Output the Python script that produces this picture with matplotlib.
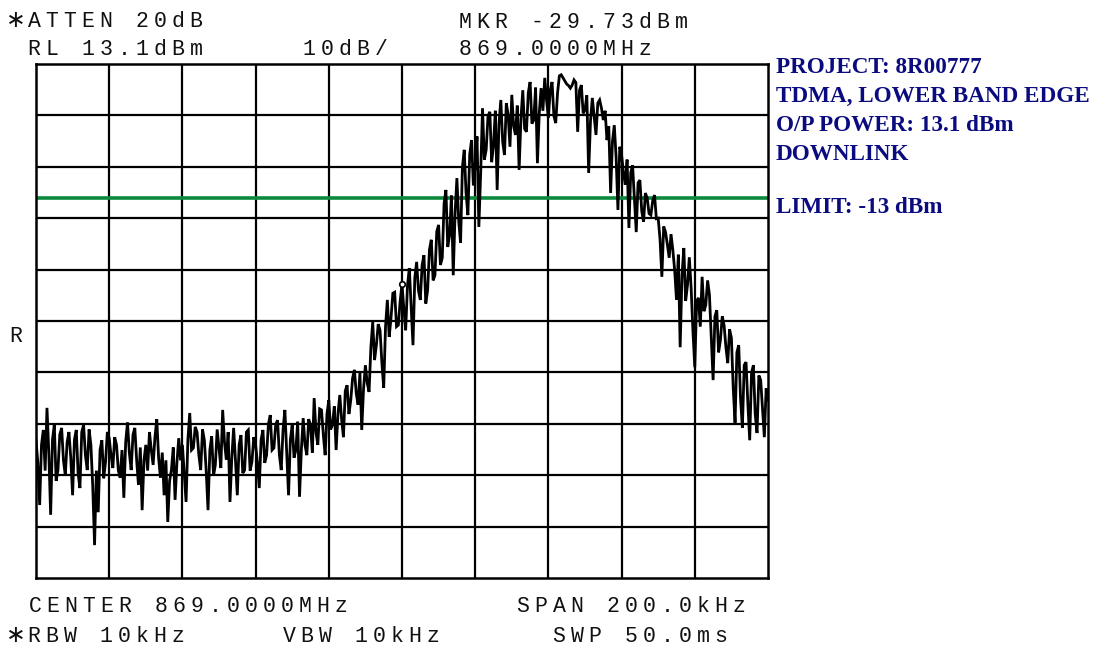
import numpy as np
import matplotlib
matplotlib.use("Agg")
import matplotlib.pyplot as plt

# ---------------- data ----------------
center_mhz = 869.0
span_khz = 200.0
ref_level = 13.1
db_per_div = 10.0
limit_dbm = -13.0
marker_dbm = -29.73

# trace amplitudes in dBm, 401 points evenly spaced over the span
trace_dbm = [
    -60.1, -64.5, -72.7, -61.0, -58.1, -66.0, -53.8, -62.5, -74.6, -60.0,
    -57.1, -68.0, -65.9, -59.0, -57.7, -64.0, -66.9, -60.5, -58.5, -63.5,
    -70.8, -60.0, -58.1, -66.5, -69.4, -58.5, -57.1, -63.0, -65.9, -58.0,
    -61.0, -69.0, -80.5, -66.0, -74.1, -62.0, -60.1, -67.5, -64.3, -58.5,
    -59.7, -63.0, -65.5, -59.5, -61.0, -66.0, -67.4, -62.0, -71.3, -60.5,
    -56.6, -62.5, -65.9, -59.0, -57.7, -64.0, -68.8, -61.5, -73.7, -64.0,
    -61.0, -66.0, -58.5, -62.0, -64.9, -59.5, -56.0, -63.5, -67.4, -62.5,
    -70.8, -64.0, -76.0, -68.0, -65.9, -61.5, -71.7, -64.5, -59.7, -64.0,
    -61.0, -66.5, -72.1, -60.0, -54.8, -62.0, -61.6, -57.5, -58.5, -63.0,
    -65.9, -58.0, -60.1, -66.0, -73.7, -62.0, -59.3, -67.0, -64.9, -58.0,
    -61.6, -65.5, -54.2, -60.5, -63.9, -58.5, -72.1, -63.5, -57.7, -64.0,
    -70.8, -61.0, -59.1, -66.5, -65.9, -58.5, -58.1, -66.0, -64.3, -59.5,
    -61.0, -64.5, -69.4, -60.0, -58.1, -64.5, -63.0, -57.0, -55.2, -62.0,
    -61.6, -57.0, -56.2, -63.0, -65.9, -58.0, -54.2, -62.5, -70.8, -60.0,
    -57.1, -63.5, -62.0, -56.5, -71.1, -62.0, -55.8, -61.0, -63.0, -56.0,
    -57.1, -62.5, -51.9, -58.5, -61.0, -54.0, -54.2, -59.0, -63.0, -55.0,
    -52.3, -58.0, -57.1, -53.5, -62.0, -55.0, -51.3, -56.0, -59.5, -50.5,
    -49.4, -55.0, -52.3, -48.0, -46.4, -51.0, -53.2, -47.0, -58.1, -50.0,
    -45.5, -49.0, -50.7, -42.0, -37.1, -44.5, -41.6, -37.5, -38.7, -45.0,
    -49.9, -38.0, -32.8, -40.0, -36.3, -31.5, -31.3, -38.0, -37.7, -33.0,
    -29.7, -34.5, -38.7, -30.0, -26.6, -34.0, -41.6, -28.5, -25.4, -31.0,
    -32.8, -26.0, -24.1, -33.5, -30.9, -23.0, -21.1, -29.0, -28.0, -19.5,
    -18.2, -26.0, -24.6, -14.0, -11.4, -22.5, -20.2, -12.5, -28.0, -16.0,
    -9.1, -17.5, -21.7, -7.0, -3.6, -12.0, -16.3, -4.5, -1.7, -10.5,
    -6.6, -1.0, -18.6, -8.0, 4.5, -5.5, -3.6, 3.0, 3.8, -6.0,
    -2.7, 4.0, -11.4, 1.5, 6.1, -2.0, -4.6, 5.5, 3.2, -3.0,
    7.1, 1.0, -0.7, 5.0, -7.5, 2.5, 8.0, 0.5, -0.1, 7.5,
    9.6, 1.5, 2.2, 8.5, -6.2, 3.5, 8.4, 4.0, 10.4, 6.0,
    2.6, 8.0, 9.6, 3.0, 1.6, 7.5, 10.8, 11.0, 10.4, 9.8,
    9.2, 8.9, 8.4, 9.0, 10.0, 9.5, -0.1, 8.0, 9.0, 3.5,
    4.2, 7.0, -8.1, 2.0, 6.5, 3.0, -0.7, 5.5, 6.1, 4.5,
    2.2, 4.0, -1.7, 1.0, -12.0, -2.0, 1.2, -5.0, -15.3, -3.0,
    -4.6, -8.0, -10.4, -5.5, -18.8, -8.0, -6.6, -13.0, -19.6, -10.0,
    -9.5, -15.5, -17.6, -12.0, -13.0, -16.0, -16.3, -13.5, -12.4, -17.0,
    -16.9, -21.0, -28.3, -18.5, -19.6, -22.0, -24.6, -20.0, -23.1, -27.0,
    -32.8, -24.0, -42.0, -28.0, -22.7, -33.0, -29.9, -24.5, -30.5, -39.0,
    -45.9, -33.0, -32.4, -38.0, -28.3, -35.0, -33.8, -29.0, -31.8, -40.0,
    -48.4, -36.0, -34.8, -43.0, -40.6, -36.0, -37.7, -42.0, -45.1, -38.5,
    -40.2, -50.0, -56.7, -43.0, -41.6, -52.0, -57.7, -45.5, -44.9, -53.0,
    -60.1, -47.0, -45.5, -55.0, -58.7, -47.5, -48.4, -54.0, -59.5, -50.0,
    -52.3,
]

header_left = ["*ATTEN 20dB", " RL 13.1dBm"]
header_mid = "10dB/"
header_right = ["MKR -29.73dBm", "869.0000MHz"]
footer_lines = [
    ("CENTER 869.0000MHz", 29, 612),
    ("SPAN 200.0kHz", 517, 612),
    ("*RBW 10kHz", 10, 642),
    ("VBW 10kHz", 283, 642),
    ("SWP 50.0ms", 553, 642),
]
notes = ["PROJECT: 8R00777", "TDMA, LOWER BAND EDGE",
         "O/P POWER: 13.1 dBm", "DOWNLINK"]
limit_note = "LIMIT: -13 dBm"

# ---------------- figure ----------------
W, H = 1105, 648
fig = plt.figure(figsize=(W / 100, H / 100), dpi=100)
fig.patch.set_facecolor("white")

x0, x1, y0, y1 = 36, 768, 64, 578
ax = fig.add_axes([x0 / W, 1 - y1 / H, (x1 - x0) / W, (y1 - y0) / H])

f_start = center_mhz - span_khz / 2000.0
f_stop = center_mhz + span_khz / 2000.0
freqs = np.linspace(f_start, f_stop, len(trace_dbm))
bottom = ref_level - 10 * db_per_div

ax.set_xlim(f_start, f_stop)
ax.set_ylim(bottom, ref_level)

# graticule
for i in range(1, 10):
    ax.axvline(f_start + i * (f_stop - f_start) / 10, color="black", lw=1.6, zorder=1)
    ax.axhline(bottom + i * db_per_div, color="black", lw=1.6, zorder=1)

ax.axhline(limit_dbm, color="#0b8a3e", lw=2.6, zorder=2)
ax.plot(freqs, trace_dbm, color="black", lw=2.0, zorder=3,
        solid_joinstyle="miter")
ax.plot([center_mhz], [marker_dbm], marker="o", ms=4, mfc="white",
        mec="black", mew=1.2, zorder=4)

ax.set_xticks([])
ax.set_yticks([])
for s in ax.spines.values():
    s.set_linewidth(1.8)
    s.set_color("black")

# ---------------- HP-style text ----------------
mono = ["Liberation Mono", "DejaVu Sans Mono"]
CELL = 18.0


def hp_text(s, xleft, ybase):
    for i, ch in enumerate(s):
        if ch == " ":
            continue
        cx = xleft + 6 + CELL * i
        if ch == "*":
            # the instrument's asterisk is a full-height star
            fig.text(cx / W, 1 - (ybase - 7) / H, "\u2217", ha="center",
                     va="center", fontsize=17, family=["DejaVu Sans"],
                     color="#111111")
            continue
        fig.text(cx / W, 1 - ybase / H, ch, ha="center", va="baseline",
                 fontsize=15.5, family=mono, color="#111111")


hp_text(header_left[0], 10, 27)
hp_text(header_left[1], 10, 55)
hp_text(header_mid, 303, 55)
hp_text(header_right[0], 459, 28)
hp_text(header_right[1], 459, 55)
for s, xx, yy in footer_lines:
    hp_text(s, xx, yy)
hp_text("R", 10, 342)

# ---------------- annotation notes ----------------
navy = "#0b0b80"
for s, yb in zip(notes, [73, 102, 131, 160]):
    fig.text(776 / W, 1 - yb / H, s, ha="left", va="baseline",
             fontsize=16.7, family="Liberation Serif", weight="bold",
             color=navy)
fig.text(776 / W, 1 - 213 / H, limit_note, ha="left", va="baseline",
         fontsize=16.7, family="Liberation Serif", weight="bold", color=navy)

fig.savefig("out.png", dpi=100, facecolor="white")
